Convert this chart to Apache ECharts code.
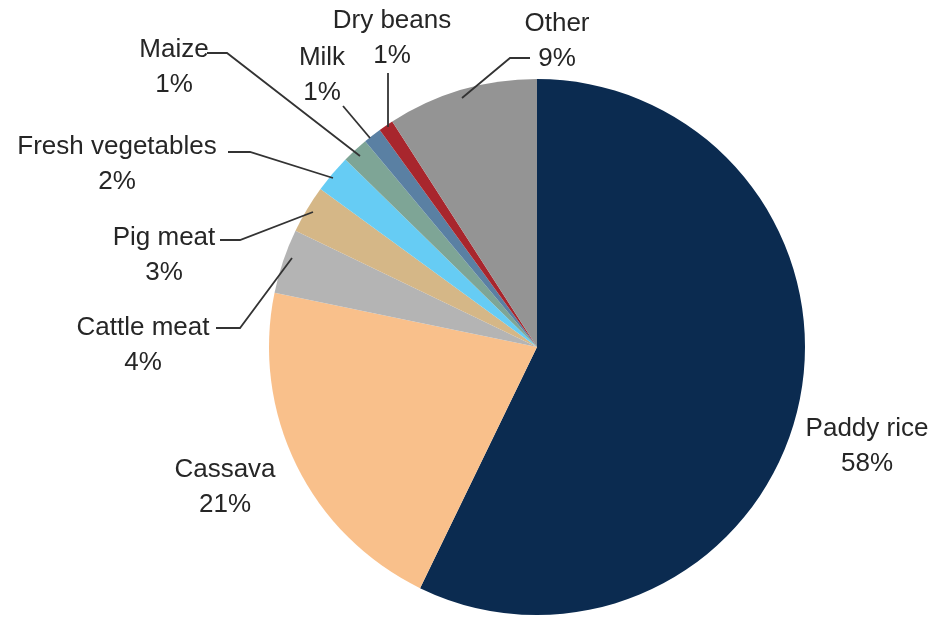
<!DOCTYPE html>
<html>
<head>
<meta charset="utf-8">
<script src="https://cdn.jsdelivr.net/npm/echarts@6/dist/echarts.min.js"></script>
<style>
  html, body { margin: 0; padding: 0; background: #fff; }
  #chart { width: 933px; height: 617px; }
</style>
</head>
<body>
<div id="chart"></div>
<script>
// 数据 (clockwise from 12 o'clock)
var categories = ["Paddy rice", "Cassava", "Cattle meat", "Pig meat", "Fresh vegetables", "Maize", "Milk", "Dry beans", "Other"];
var shares = [57.3, 21.1, 3.9, 2.9, 2.3, 1.6, 1.1, 0.9, 9.1]; // 扇区大小, 按图估计
var shareLabels = ["58%", "21%", "4%", "3%", "2%", "1%", "1%", "1%", "9%"]; // 图上印的数字
var colors = ["#0b2b50", "#f9c08b", "#b4b4b4", "#d5b787", "#66ccf4", "#7ea596", "#5a80a3", "#a8262d", "#949494"];

// 标签位置 (文字块中心) 和引线
var labelPos = [
  { x: 867, y: 446, line: null },
  { x: 225, y: 487, line: null },
  { x: 143, y: 345, line: [[292, 258], [240, 328], [216, 328]] },
  { x: 164, y: 255, line: [[313, 212], [240, 240], [220, 240]] },
  { x: 117, y: 164, line: [[333, 178], [250, 152], [228, 152]] },
  { x: 174, y: 67,  line: [[360, 156], [227, 53], [207, 53]] },
  { x: 322, y: 75,  line: [[370, 138], [343, 106]] },
  { x: 392, y: 38,  line: [[388, 127], [388, 73]] },
  { x: 557, y: 41,  line: [[462, 98], [510, 58], [530, 58]] }
];

var chart = echarts.init(document.getElementById("chart"));

// 饼图本身
var pieData = categories.map(function (name, i) {
  return { name: name, value: shares[i], itemStyle: { color: colors[i] } };
});
// 上层透明饼, 只用来画标签和引线 (引线要压在扇区上面)
var labelData = categories.map(function (name, i) {
  var item = { name: name, value: shares[i] };
  if (!labelPos[i].line) {
    item.labelLine = { show: false };
  }
  return item;
});

chart.setOption({
  animation: false,
  series: [{
    type: "pie",
    center: [537, 347],
    radius: 268,
    startAngle: 90,
    clockwise: true,
    silent: true,
    z: 2,
    data: pieData,
    label: { show: false },
    labelLine: { show: false }
  }, {
    type: "pie",
    center: [537, 347],
    radius: 268,
    startAngle: 90,
    clockwise: true,
    silent: true,
    z: 5,
    data: labelData,
    itemStyle: { color: "rgba(0,0,0,0)" },
    label: {
      show: true,
      position: "outside",
      color: "#262626",
      fontFamily: "Liberation Sans, Arial, sans-serif",
      fontSize: 26,
      lineHeight: 35,
      align: "center",
      overflow: "none",
      formatter: function (p) {
        return p.name + "\n" + shareLabels[p.dataIndex];
      }
    },
    labelLine: {
      show: true,
      lineStyle: { color: "#333", width: 1.8 }
    },
    labelLayout: function (params) {
      var pos = labelPos[params.dataIndex];
      var res = { x: pos.x, y: pos.y, align: "center", verticalAlign: "middle" };
      if (pos.line) {
        res.labelLinePoints = pos.line;
      }
      return res;
    }
  }]
});
</script>
</body>
</html>
